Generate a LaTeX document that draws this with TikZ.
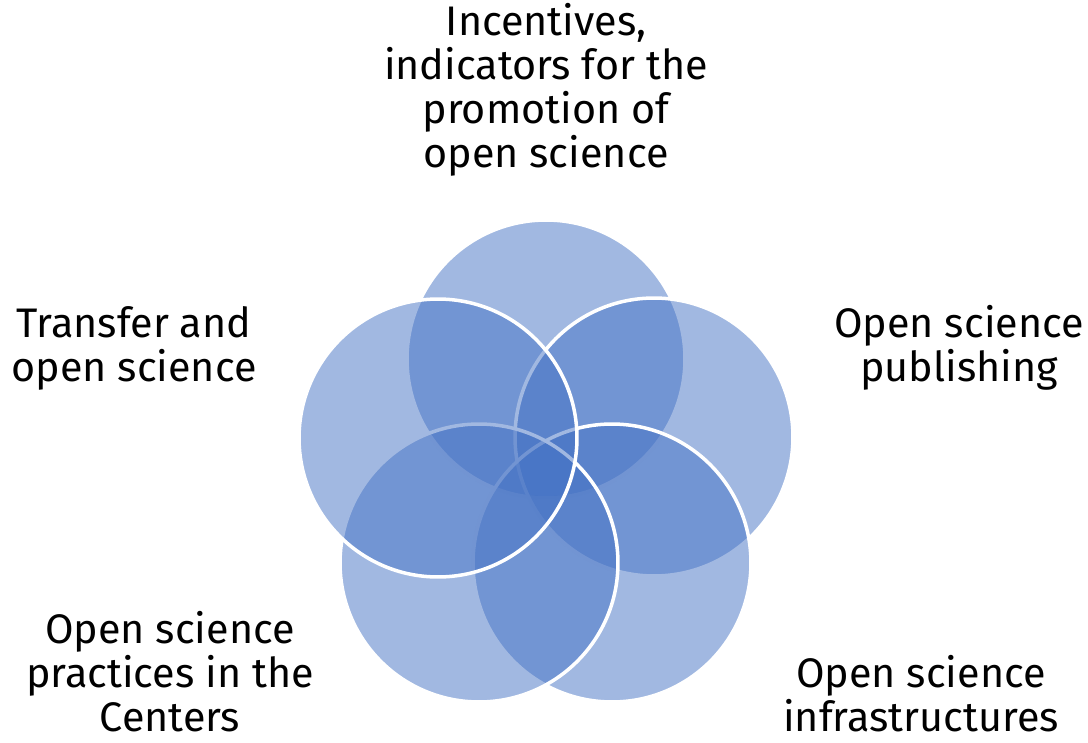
\documentclass[tikz,border=0pt]{standalone}
\usepackage{fontspec}
\setmainfont{Fira Sans}
\usepackage{tikz}

\definecolor{petalblue}{RGB}{68,114,196}
\tikzset{
  petal/.style={circle, minimum size=5.56cm, inner sep=0pt, fill=petalblue,
    fill opacity=0.5, draw=white, draw opacity=1, line width=2pt},
  labeltext/.style={align=center, text=black, inner sep=0pt,
    font=\fontsize{23.5}{25}\selectfont}
}

\begin{document}
\begin{tikzpicture}[x=0.02cm, y=-0.02cm]
    \useasboundingbox (0,0) rectangle (1088,743);

    % Circles
    \node[petal] (incentives) at (546,359) {};
    \node[petal] (publishing) at (654,437) {};
    \node[petal] (infra) at (612,563) {};
    \node[petal] (practices) at (479,563) {};
    \node[petal] (transfer) at (438,438) {};

    % Labels
    \node[labeltext] (incentivestext) at (546,90) {Incentives,\\indicators for the\\promotion of\\open science};
    \node[labeltext] (publishingtext) at (959,348) {Open science\\publishing};
    \node[labeltext] (infratext) at (921,694) {Open science\\infrastructures};
    \node[labeltext] (practicestext) at (170,672) {Open science\\practices in the\\Centers};
    \node[labeltext] (transfertext) at (134,348) {Transfer and\\open science};
\end{tikzpicture}
\end{document}
